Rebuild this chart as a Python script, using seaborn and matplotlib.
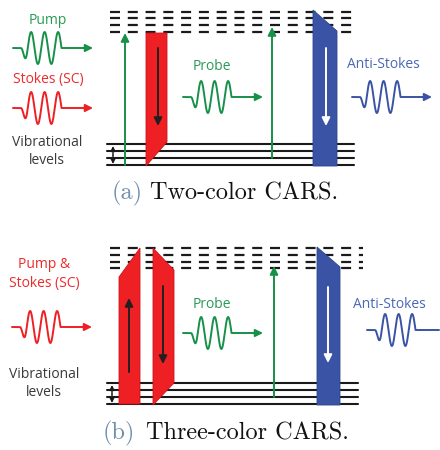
import numpy as np
import matplotlib.pyplot as plt
import seaborn as sns
from matplotlib.patches import Polygon

# panel geometry in pixel coordinates (y grows downward)
panels = ['a', 'b']
captions = ['Two-color CARS.', 'Three-color CARS.']
caption_y = [193, 433]
caption_x = [(112, 150), (103, 146)]
virtual_levels = [[12, 18, 25, 32], [248, 255, 262, 268]]
virtual_x = [(110, 356), (110, 363)]
vib_levels = [[144, 151, 158, 165], [383, 390, 397, 404]]
vib_x = [(107, 354), (107, 358)]

# coloured transition bands (polygons) and the arrows inside them
red_bands = [
    [[(146, 33), (167, 33), (167, 142), (146, 166)]],
    [[(119, 404), (140, 404), (140, 248), (119, 277)],
     [(153, 248), (174, 270), (174, 383), (153, 405)]],
]
red_arrows = [[(158, 48, 126)], [(129, 372, 298), (163, 286, 364)]]
blue_bands = [[(313, 10), (337, 31), (337, 166), (313, 166)],
              [(317, 247), (340, 267), (340, 405), (317, 405)]]
blue_arrows = [(326, 48, 126), (328, 287, 363)]
green_arrows = [[(125, 165, 33), (272, 158, 27)], [(274, 397, 266)]]
vib_arrow = [(113, 146, 164), (112, 385, 403)]

# light pulses: (x start, centre y, colour key)
waves = [[(13, 48, 'green'), (13, 108, 'red'), (183, 97, 'green'), (352, 97, 'blue')],
         [(12, 327, 'red'), (183, 333, 'green'), (367, 330, 'blue')]]

labels = [
    [('Pump', 48, 20, 'green'), ('Stokes (SC)', 48, 79, 'red'), ('Probe', 212, 67, 'green'),
     ('Anti-Stokes', 383, 64, 'blue'), ('Vibrational', 47, 143, 'gray'), ('levels', 47, 161, 'gray')],
    [('Pump &', 44, 265, 'red'), ('Stokes (SC)', 44, 283, 'red'), ('Probe', 212, 304, 'green'),
     ('Anti-Stokes', 389, 305, 'blue'), ('Vibrational', 44, 374, 'gray'), ('levels', 44, 392, 'gray')],
]

colors = {'green': '#17914a', 'red': '#ee2024', 'blue': '#3a53a4',
          'gray': '#3a3a3a', 'caption': '#6f8fad'}
text_colors = {'green': '#2a9a55', 'red': '#ee2a2a', 'blue': '#4a68b8', 'gray': '#3a3a3a'}

sns.set_theme(style='white')
plt.rcParams['font.family'] = ['Open Sans', 'DejaVu Sans']

fig = plt.figure(figsize=(4.4, 4.5), dpi=100)
ax = fig.add_axes([0, 0, 1, 1])


def pulse(x0, yc, amp=16, period=13.5, length=80):
    # schematic wave packet: flat lead-in, three cycles, flat tail
    xs = np.linspace(x0, x0 + length - 8, 400)
    t = (xs - (x0 + 8)) / period
    env = np.clip(t / 0.45, 0, 1)
    y = np.where((t > 0) & (t < 3.0), -amp * env * np.sin(2 * np.pi * t), 0.0)
    return xs, yc - y


def arrow(x0, y0, x1, y1, color, lw=1.4, scale=11, z=2):
    ax.annotate('', xy=(x1, y1), xytext=(x0, y0), zorder=z,
                arrowprops=dict(arrowstyle='-|>', color=color, lw=lw,
                                mutation_scale=scale, shrinkA=0, shrinkB=0))


for i, p in enumerate(panels):
    for y in virtual_levels[i]:
        ax.plot(virtual_x[i], [y, y], color='#1a1a1a', lw=1.6, ls=(0, (4.5, 3.5)))
    for y in vib_levels[i]:
        ax.plot(vib_x[i], [y, y], color='#1a1a1a', lw=1.5)

    x, y0, y1 = vib_arrow[i]
    arrow(x, (y0 + y1) / 2, x, y0, '#1a1a1a', lw=1.0, scale=7)
    arrow(x, (y0 + y1) / 2, x, y1, '#1a1a1a', lw=1.0, scale=7)

    for x, y0, y1 in green_arrows[i]:
        arrow(x, y0, x, y1, colors['green'], lw=1.4, scale=12)

    for poly in red_bands[i]:
        ax.add_patch(Polygon(poly, closed=True, fc=colors['red'], ec='#c8161c', lw=0.6, zorder=3))
    for x, y0, y1 in red_arrows[i]:
        arrow(x, y0, x, y1, '#231f20', lw=1.4, scale=12, z=4)

    ax.add_patch(Polygon(blue_bands[i], closed=True, fc=colors['blue'], ec='#2e4590', lw=0.6, zorder=3))
    x, y0, y1 = blue_arrows[i]
    arrow(x, y0, x, y1, 'white', lw=1.4, scale=12, z=4)

    for x0, yc, c in waves[i]:
        xs, ys = pulse(x0, yc)
        sns.lineplot(x=xs, y=ys, ax=ax, color=colors[c], lw=1.4, sort=False, estimator=None)
        arrow(xs[-1] - 2, yc, xs[-1] + 8, yc, colors[c], lw=1.4, scale=11)

    for txt, x, y, c in labels[i]:
        ax.text(x, y, txt, color=text_colors[c], fontsize=10, ha='center', va='center')

    ax.text(caption_x[i][0], caption_y[i], f'({p})', color=colors['caption'], fontsize=17.5,
            family='cmr10', ha='left', va='center')
    ax.text(caption_x[i][1], caption_y[i], captions[i], color='#111111', fontsize=17.5,
            family='cmr10', ha='left', va='center')

ax.set_xlim(0, 440)
ax.set_ylim(450, 0)
ax.axis('off')
fig.savefig('out.png', dpi=100)
